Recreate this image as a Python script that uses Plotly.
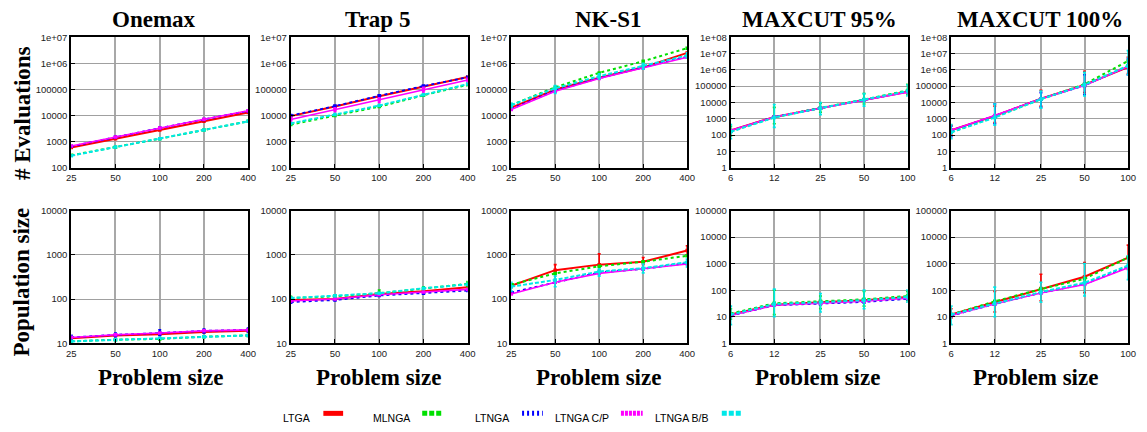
import math
import plotly.graph_objects as go

W, H = 1147, 432

series_names = ["LTGA", "MLNGA", "LTNGA", "LTNGA C/P", "LTNGA B/B"]
series_colors = ["#ff0000", "#00e000", "#0000ff", "#ff00ff", "#00e8e8"]
series_dash = ["solid", "dot", "dot", "solid", "4px,2px"]
series_width = [2.0, 2.0, 1.8, 1.6, 2.0]

sizes_a = [25, 50, 100, 200, 400]
sizes_b = [6, 12, 25, 50, 100]
size_labels_a = ["25", "50", "100", "200", "400"]
size_labels_b = ["6", "12", "25", "50", "100"]

titles = ["Onemax", "Trap 5", "NK-S1", "MAXCUT 95%", "MAXCUT 100%"]

# ---- Evaluations (row 1) ----
onemax_eval = {
    "LTGA": [600, 1300, 2800, 6000, 13000],
    "MLNGA": [300, 610, 1300, 2800, 6000],
    "LTNGA": [660, 1500, 3300, 7100, 15000],
    "LTNGA C/P": [680, 1520, 3350, 7200, 15200],
    "LTNGA B/B": [290, 620, 1300, 2800, 6000],
}
trap_eval = {
    "LTGA": [9500, 22000, 55000, 130000, 300000],
    "MLNGA": [4500, 10000, 22000, 60000, 150000],
    "LTNGA": [10000, 23000, 57000, 135000, 290000],
    "LTNGA C/P": [7000, 17000, 40000, 100000, 230000],
    "LTNGA B/B": [5000, 11000, 24000, 62000, 160000],
}
nk_eval = {
    "LTGA": [20000, 100000, 280000, 700000, 2500000],
    "MLNGA": [25000, 120000, 430000, 1200000, 3800000],
    "LTNGA": [18000, 90000, 270000, 700000, 1800000],
    "LTNGA C/P": [17000, 85000, 260000, 650000, 1700000],
    "LTNGA B/B": [25000, 110000, 320000, 800000, 2000000],
}
mc95_eval = {
    "LTGA": [190, 1300, 4500, 14000, 45000],
    "MLNGA": [170, 1250, 4600, 15000, 55000],
    "LTNGA": [180, 1300, 4500, 14000, 45000],
    "LTNGA C/P": [190, 1300, 4400, 13500, 43000],
    "LTNGA B/B": [160, 1200, 4500, 14500, 50000],
}
mc100_eval = {
    "LTGA": [200, 1500, 17000, 120000, 1500000],
    "MLNGA": [150, 1300, 16000, 130000, 3500000],
    "LTNGA": [190, 1500, 17000, 110000, 1700000],
    "LTNGA C/P": [200, 1600, 17000, 110000, 1600000],
    "LTNGA B/B": [150, 1200, 16000, 120000, 1800000],
}

# ---- Population sizes (row 2) ----
onemax_pop = {
    "LTGA": [13, 15, 16, 18, 19],
    "MLNGA": [11, 12, 12.5, 14, 15],
    "LTNGA": [13.5, 15.5, 17, 19, 20],
    "LTNGA C/P": [13.5, 15.5, 17, 19, 20],
    "LTNGA B/B": [11, 12, 13, 14, 15],
}
trap_pop = {
    "LTGA": [95, 100, 130, 150, 185],
    "MLNGA": [105, 115, 135, 170, 220],
    "LTNGA": [85, 95, 120, 135, 155],
    "LTNGA C/P": [90, 100, 125, 145, 165],
    "LTNGA B/B": [105, 118, 135, 175, 215],
}
nk_pop = {
    "LTGA": [200, 450, 600, 700, 1250],
    "MLNGA": [210, 380, 550, 700, 950],
    "LTNGA": [140, 240, 400, 480, 650],
    "LTNGA C/P": [130, 240, 380, 480, 620],
    "LTNGA B/B": [190, 270, 420, 500, 680],
}
mc95_pop = {
    "LTGA": [12, 28, 35, 42, 55],
    "MLNGA": [13, 32, 38, 45, 60],
    "LTNGA": [11, 27, 31, 36, 47],
    "LTNGA C/P": [11, 27, 32, 38, 50],
    "LTNGA B/B": [12, 30, 35, 42, 55],
}
mc100_pop = {
    "LTGA": [12, 35, 115, 320, 1700],
    "MLNGA": [12, 38, 110, 270, 1700],
    "LTNGA": [11, 30, 80, 170, 750],
    "LTNGA C/P": [11, 30, 78, 165, 700],
    "LTNGA B/B": [12, 32, 85, 190, 850],
}

# ---- Error bars (low, high) ----
errors = {
    (3, "LTNGA B/B"): ([60, 300, 1800, 6000, 25000], [450, 7500, 10000, 35000, 120000]),
    (3, "MLNGA"): ([90, 500, 2500, 8000, 30000], [350, 5000, 9000, 35000, 130000]),
    (4, "LTNGA B/B"): ([60, 400, 4500, 25000, 500000], [450, 8000, 50000, 700000, 15000000]),
    (4, "LTGA"): ([100, 600, 6000, 40000, 600000], [400, 6000, 55000, 800000, 6000000]),
    (4, "LTNGA"): ([80, 500, 5000, 30000, 500000], [350, 8000, 40000, 500000, 5000000]),
    (1, "LTNGA C/P"): ([5500, 14000, 32000, 80000, 180000], [8500, 20000, 48000, 120000, 270000]),
    (2, "LTNGA B/B"): ([20000, 70000, 250000, 600000, 1600000], [30000, 140000, 400000, 1000000, 2500000]),
    (7, "LTGA"): ([180, 380, 450, 600, 1000], [220, 600, 1050, 870, 1600]),
    (7, "LTNGA B/B"): ([150, 190, 330, 390, 530], [240, 330, 480, 620, 800]),
    (8, "LTNGA B/B"): ([5, 10, 15, 20, 35], [25, 110, 75, 100, 100]),
    (8, "MLNGA"): ([8, 12, 20, 25, 40], [20, 100, 60, 90, 90]),
    (9, "LTGA"): ([9, 15, 40, 80, 600], [20, 90, 400, 1100, 5000]),
    (9, "LTNGA B/B"): ([5, 10, 35, 60, 250], [25, 130, 200, 1000, 2000]),
    (6, "MLNGA"): ([95, 105, 120, 150, 190], [115, 125, 160, 190, 250]),
    (5, "LTNGA"): ([12, 14, 15, 17, 18], [15, 17, 20, 21, 22]),
}

panels = [onemax_eval, trap_eval, nk_eval, mc95_eval, mc100_eval,
          onemax_pop, trap_pop, nk_pop, mc95_pop, mc100_pop]

col_left = [67, 289, 512, 734, 957]
col_right = [246, 468, 690, 913, 1136]
row_top = [32, 210]
row_bot = [166, 346]

eval_ticks_a = [100, 1000, 10000, 100000, 1e6, 1e7]
eval_labels_a = ["100", "1000", "10000", "100000", "1e+06", "1e+07"]
eval_ticks_b = [1, 10, 100, 1000, 10000, 100000, 1e6, 1e7, 1e8]
eval_labels_b = ["1", "10", "100", "1000", "10000", "100000", "1e+06", "1e+07", "1e+08"]
pop_ticks_a = [10, 100, 1000, 10000]
pop_labels_a = ["10", "100", "1000", "10000"]
pop_ticks_b = [1, 10, 100, 1000, 10000, 100000]
pop_labels_b = ["1", "10", "100", "1000", "10000", "100000"]

fig = go.Figure()
tick_font = dict(family="Liberation Sans, Arial, sans-serif", size=9.5, color="#222")
layout = {}

for i, data in enumerate(panels):
    r, c = divmod(i, 5)
    sfx = "" if i == 0 else str(i + 1)
    xs = sizes_a if c < 3 else sizes_b
    xl = size_labels_a if c < 3 else size_labels_b
    if r == 0:
        yt, yl = (eval_ticks_a, eval_labels_a) if c < 3 else (eval_ticks_b, eval_labels_b)
    else:
        yt, yl = (pop_ticks_a, pop_labels_a) if c < 3 else (pop_ticks_b, pop_labels_b)
    layout["xaxis" + sfx] = dict(
        type="log", domain=[col_left[c] / W, col_right[c] / W],
        range=[math.log10(xs[0]), math.log10(xs[-1])],
        tickvals=xs, ticktext=xl, anchor="y" + sfx,
        showline=True, linecolor="black", linewidth=2, mirror=True,
        showgrid=True, gridcolor="#a8a8a8", gridwidth=1.5,
        ticks="inside", ticklen=4, tickcolor="black",
        tickfont=tick_font, zeroline=False,
    )
    layout["yaxis" + sfx] = dict(
        type="log", domain=[1 - row_bot[r] / H, 1 - row_top[r] / H],
        range=[math.log10(yt[0]), math.log10(yt[-1])],
        tickvals=yt, ticktext=yl, anchor="x" + sfx,
        showline=True, linecolor="black", linewidth=2, mirror=True,
        showgrid=True, gridcolor="#a0a0a0", gridwidth=1.2,
        ticks="inside", ticklen=4, tickcolor="black",
        tickfont=tick_font, zeroline=False,
    )
    for k, name in enumerate(series_names):
        ys = data[name]
        err = errors.get((i, name))
        ey = None
        if err:
            lo, hi = err
            ey = dict(type="data", symmetric=False,
                      array=[h - y for h, y in zip(hi, ys)],
                      arrayminus=[y - l for y, l in zip(ys, lo)],
                      color=series_colors[k], thickness=1.6, width=1.5)
        fig.add_trace(go.Scatter(
            x=xs, y=ys, mode="lines+markers", name=name,
            xaxis="x" + sfx, yaxis="y" + sfx, showlegend=False,
            line=dict(color=series_colors[k], width=series_width[k], dash=series_dash[k]),
            marker=dict(size=3.5, color=series_colors[k], symbol="square"),
            error_y=ey, cliponaxis=True,
        ))

serif = "Liberation Serif, Times New Roman, serif"
annotations = []
title_x = [151, 377, 610, 824, 1047]
for c, t in enumerate(titles):
    annotations.append(dict(text="<b>%s</b>" % t, x=title_x[c] / W, y=1 - 14 / H,
                            xref="paper", yref="paper", showarrow=False,
                            font=dict(family=serif, size=23, color="black"),
                            xanchor="center", yanchor="middle"))
ps_x = [157, 378, 600, 822, 1042]
for c in range(5):
    annotations.append(dict(text="<b>Problem size</b>", x=ps_x[c] / W, y=1 - 381 / H,
                            xref="paper", yref="paper", showarrow=False,
                            font=dict(family=serif, size=23, color="black"),
                            xanchor="center", yanchor="middle"))
annotations.append(dict(text="<b># Evaluations</b>", x=17 / W, y=1 - 110 / H, textangle=-90,
                        xref="paper", yref="paper", showarrow=False,
                        font=dict(family=serif, size=23, color="black"),
                        xanchor="center", yanchor="middle"))
annotations.append(dict(text="<b>Population size</b>", x=17 / W, y=1 - 283 / H, textangle=-90,
                        xref="paper", yref="paper", showarrow=False,
                        font=dict(family=serif, size=23, color="black"),
                        xanchor="center", yanchor="middle"))

# Gnuplot-style legend: label followed by a line sample
leg_text_right = [311, 412, 512, 613, 714]
leg_sample = [(322, 342), (422, 443), (523, 544), (623, 645), (725, 746)]
leg_dash = ["solid", "5px,2px", "2px,3px", "3px,1px", "5px,2px"]
shapes = []
for k, name in enumerate(series_names):
    annotations.append(dict(text=name, x=leg_text_right[k] / W, y=1 - 423 / H,
                            xref="paper", yref="paper", showarrow=False,
                            font=dict(family="Liberation Sans, Arial, sans-serif", size=10.5, color="black"),
                            xanchor="right", yanchor="middle"))
    x0, x1 = leg_sample[k]
    shapes.append(dict(type="line", xref="paper", yref="paper",
                       x0=x0 / W, x1=x1 / W, y0=1 - 418 / H, y1=1 - 418 / H,
                       line=dict(color=series_colors[k], width=5, dash=leg_dash[k])))

fig.update_layout(
    width=W, height=H, margin=dict(l=0, r=0, t=0, b=0),
    paper_bgcolor="white", plot_bgcolor="white",
    showlegend=False, annotations=annotations, shapes=shapes,
    **layout,
)

fig.write_html(
    "out.html",
    config={"displayModeBar": False},
    post_script="document.body.style.margin='0';document.body.style.padding='0';"
                "document.body.style.overflow='hidden';",
)
